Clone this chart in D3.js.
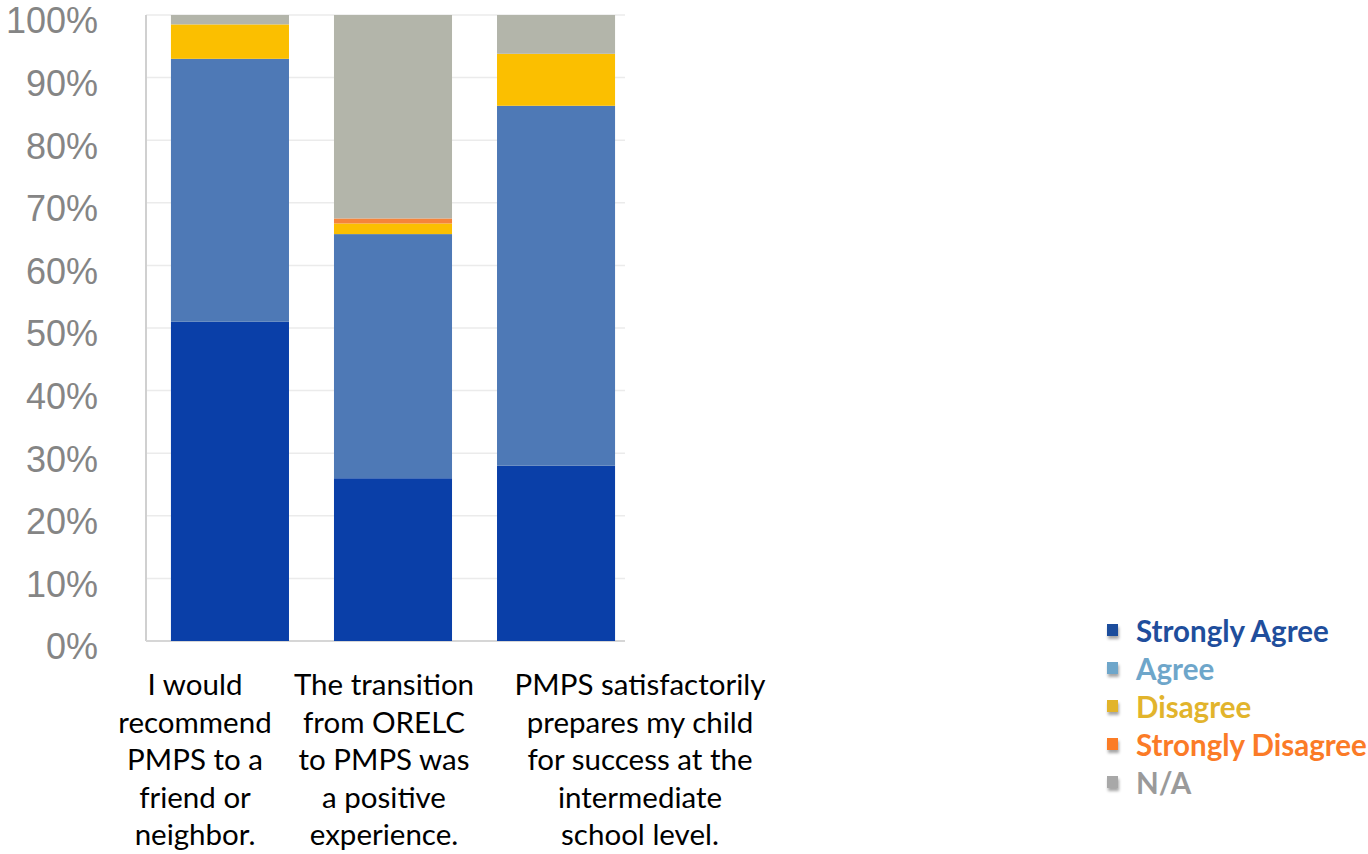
<!DOCTYPE html>
<html>
<head>
<meta charset="utf-8">
<script src="https://cdn.jsdelivr.net/npm/d3@7"></script>
<style>
  html, body { margin: 0; padding: 0; background: #ffffff; }
  svg { display: block; }
</style>
</head>
<body>
<svg id="chart" width="1368" height="854"></svg>
<script>
// ---------- data ----------
const categories = ["q1", "q2", "q3"];
const categoryLabels = [
  ["I would", "recommend", "PMPS to a", "friend or", "neighbor."],
  ["The transition", "from ORELC", "to PMPS was", "a positive", "experience."],
  ["PMPS satisfactorily", "prepares my child", "for success at the", "intermediate", "school level."]
];
const seriesNames = ["Strongly Agree", "Agree", "Disagree", "Strongly Disagree", "N/A"];
const stronglyAgree    = [51, 26, 28];
const agree            = [42, 39, 57.5];
const disagree         = [5.5, 1.7, 8.3];
const stronglyDisagree = [0, 0.8, 0];
const notApplicable    = [1.5, 32.5, 6.2];
const yTicks = [0, 10, 20, 30, 40, 50, 60, 70, 80, 90, 100];

// ---------- styles ----------
const barColors    = ["#0a3fa8", "#4e79b6", "#fbbf00", "#f5843a", "#b3b5aa"];
const legendColors = ["#1f4e9c", "#6ea6ca", "#e2b42c", "#fb7b27", "#9a9a9a"];
const markerColors = ["#1f4e9c", "#6ea6ca", "#e2b42c", "#fb7b27", "#a8a8a8"];

const svg = d3.select("#chart");

const rows = categories.map((c, i) => ({
  cat: c,
  "Strongly Agree": stronglyAgree[i],
  "Agree": agree[i],
  "Disagree": disagree[i],
  "Strongly Disagree": stronglyDisagree[i],
  "N/A": notApplicable[i]
}));

const stack = d3.stack().keys(seriesNames)(rows);

const x = d3.scaleBand().domain(categories).range([146, 640])
  .paddingInner(0.276).paddingOuter(0.153);
const y = d3.scaleLinear().domain([0, 100]).range([641, 15]);

// gridlines
const grid = svg.append("g");
grid.selectAll("line").data(yTicks.filter(d => d > 0)).join("line")
  .attr("x1", 146).attr("x2", 625)
  .attr("y1", d => y(d)).attr("y2", d => y(d))
  .attr("stroke", "#ebebeb").attr("stroke-width", 1.5);

// axis lines
svg.append("line").attr("x1", 146).attr("x2", 146).attr("y1", y(100)).attr("y2", y(0))
  .attr("stroke", "#d0d0d0").attr("stroke-width", 2);
svg.append("line").attr("x1", 146).attr("x2", 625).attr("y1", y(0)).attr("y2", y(0))
  .attr("stroke", "#d6d6d6").attr("stroke-width", 2);

// bars
svg.append("g").selectAll("g").data(stack).join("g")
  .attr("fill", (d, i) => barColors[i])
  .selectAll("rect").data(d => d).join("rect")
  .attr("x", d => x(d.data.cat))
  .attr("width", x.bandwidth())
  .attr("y", d => y(d[1]))
  .attr("height", d => Math.max(0, y(d[0]) - y(d[1])));

// y axis labels
const yAxis = d3.axisLeft(y).tickValues(yTicks).tickFormat(d => d + "%").tickSize(0).tickPadding(0);
const yg = svg.append("g").attr("transform", "translate(98,5)").call(yAxis);
yg.select(".domain").remove();
yg.selectAll("text")
  .attr("font-family", "'Liberation Sans', Arial, sans-serif")
  .attr("font-size", 36)
  .attr("fill", "#858585")
  .attr("dy", "0.36em");

// category labels
const labelCenters = [195, 384, 640];
const lab = svg.append("g");
categoryLabels.forEach((lines, i) => {
  const t = lab.append("text")
    .attr("x", labelCenters[i])
    .attr("y", 695)
    .attr("text-anchor", "middle")
    .attr("font-family", "Lato, 'Open Sans', sans-serif")
    .attr("font-size", 29.5)
    .attr("fill", "#000");
  lines.forEach((ln, j) => {
    t.append("tspan").attr("x", labelCenters[i]).attr("dy", j === 0 ? 0 : 37.5).text(ln);
  });
});

// legend
const defs = svg.append("defs");
const f = defs.append("filter").attr("id", "shadow").attr("x", "-50%").attr("y", "-50%").attr("width", "200%").attr("height", "220%");
f.append("feDropShadow").attr("dx", 1).attr("dy", 3).attr("stdDeviation", 1.5).attr("flood-color", "#000").attr("flood-opacity", 0.35);

const legend = svg.append("g");
seriesNames.forEach((name, i) => {
  const cy = 632 + i * 38;
  legend.append("rect")
    .attr("x", 1107).attr("y", cy - 8).attr("width", 11).attr("height", 12)
    .attr("fill", markerColors[i]).attr("filter", "url(#shadow)");
  legend.append("text")
    .attr("x", 1136).attr("y", cy)
    .attr("dy", "0.35em")
    .attr("font-family", "Lato, 'Open Sans', sans-serif")
    .attr("font-weight", "bold")
    .attr("font-size", 29.5)
    .attr("fill", legendColors[i])
    .text(name);
});
</script>
</body>
</html>
